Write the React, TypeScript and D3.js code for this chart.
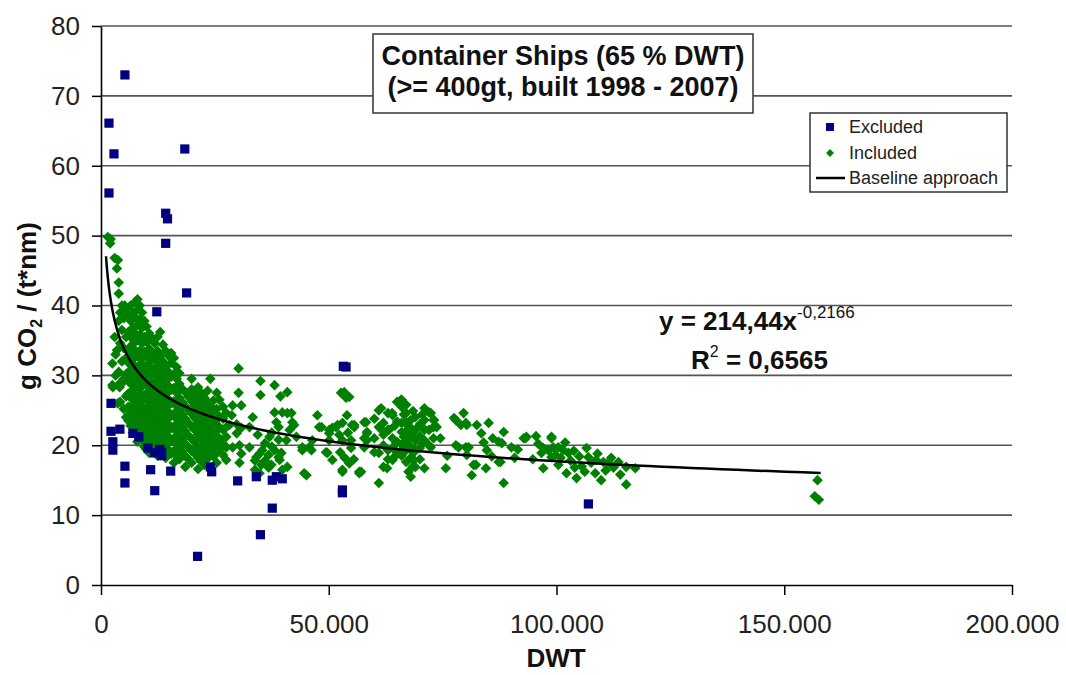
import React, { useEffect, useRef } from "react";
import * as d3 from "d3";

const W = 1066;
const H = 675;
const FONT = "'Liberation Sans', Arial, sans-serif";

const yTicks = [0, 10, 20, 30, 40, 50, 60, 70, 80];
const xTicks = [0, 50000, 100000, 150000, 200000];
const xTickLabels = ["0", "50.000", "100.000", "150.000", "200.000"];

// baseline approach from the chart: y = 214,44 x^-0,2166
const fitA = 214.44;
const fitB = -0.2166;
const fitFrom = 1100;
const fitTo = 158000;

// [DWT, g CO2 / (t*nm)]
const excluded: [number, number][] = [
  [5250, 73.0], [1750, 66.1], [2850, 61.7], [1750, 56.1], [18400, 62.4],
  [14200, 53.2], [14600, 52.4], [14200, 48.9], [18800, 41.8], [12250, 39.1],
  [2200, 26.0], [2200, 22.0], [2600, 20.5], [2600, 19.3], [4150, 22.3],
  [7000, 21.7], [8300, 21.2], [10300, 19.6], [5250, 17.0], [5250, 14.6],
  [10900, 16.5], [11800, 13.5], [11800, 18.9], [13300, 19.0], [13300, 18.5],
  [12900, 19.4], [15300, 16.3], [21200, 4.1], [24000, 16.9], [24300, 16.2],
  [30000, 14.9], [34100, 15.5], [35000, 7.2], [37600, 11.0], [37600, 15.0],
  [39800, 15.2], [38500, 15.5], [53800, 31.2], [53200, 31.3], [53000, 13.2],
  [53000, 13.6], [107000, 11.6],
];

// dense parts read column by column: [DWT, values]
const includedColumns: [number, number[]][] = [
  [3200, [33.0, 30.0]],
  [3900, [37.8, 30.5]],
  [4200, [39.0, 34.6, 28.9, 26.2]],
  [4600, [40.0, 36.5, 32.0]],
  [5000, [38.2, 33.9, 29.5, 25.2]],
  [5500, [39.5, 35.5, 32.5, 30.2, 27.0, 24.0]],
  [6000, [38.6, 36.2, 33.8, 31.8, 29.5, 27.4, 25.5, 23.5]],
  [6500, [40.0, 37.8, 35.5, 33.0, 30.8, 28.8, 26.8, 24.8, 22.8]],
  [7000, [39.0, 36.8, 34.5, 32.3, 30.0, 27.9, 25.8, 23.8, 21.8]],
  [7500, [40.5, 38.3, 36.0, 33.6, 31.3, 29.2, 27.1, 25.0, 23.0]],
  [8000, [40.9, 39.4, 37.2, 35.0, 32.7, 30.5, 28.4, 26.3, 24.2, 22.2, 20.5]],
  [8500, [40.0, 38.0, 35.8, 33.5, 31.5, 29.4, 27.4, 25.4, 23.4, 21.5]],
  [9000, [39.0, 36.8, 34.6, 32.4, 30.4, 28.4, 26.4, 24.5, 22.6, 20.8]],
  [9500, [37.8, 35.5, 33.4, 31.3, 29.2, 27.2, 25.3, 23.4, 21.6, 19.8]],
  [10000, [37.0, 34.8, 32.7, 30.6, 28.6, 26.6, 24.6, 22.8, 21.0, 19.4]],
  [10600, [36.0, 33.8, 31.8, 29.8, 27.8, 25.8, 24.0, 22.2, 20.4, 18.9]],
  [11200, [35.3, 33.0, 30.9, 28.9, 26.9, 25.0, 23.2, 21.4, 19.7]],
  [11800, [34.6, 32.3, 30.2, 28.2, 26.2, 24.3, 22.5, 20.8, 19.0]],
  [12400, [35.5, 33.5, 31.4, 29.4, 27.5, 25.6, 23.7, 21.9, 20.1, 18.5]],
  [13000, [36.2, 32.8, 30.7, 28.6, 26.7, 24.8, 23.0, 21.2, 19.5]],
  [13600, [34.4, 32.0, 30.0, 28.0, 26.1, 24.2, 22.4, 20.6, 18.8]],
  [14200, [33.5, 31.2, 29.2, 27.3, 25.4, 23.6, 21.8, 20.0, 18.2]],
  [14800, [32.8, 30.5, 28.5, 26.6, 24.8, 23.0, 21.2, 19.4]],
  [15400, [33.2, 31.8, 29.8, 27.9, 26.0, 24.2, 22.4, 20.6, 18.8]],
  [16000, [32.5, 30.2, 28.2, 26.3, 24.5, 22.7, 21.0, 19.2, 17.5]],
  [16600, [31.2, 29.5, 27.5, 25.6, 23.8, 22.0, 20.3, 18.5]],
  [17200, [30.3, 28.8, 26.8, 25.0, 23.2, 21.4, 19.7, 18.0]],
  [17800, [28.1, 26.2, 24.4, 22.6, 20.9, 19.1]],
  [18500, [27.6, 25.6, 23.8, 22.0, 20.2, 18.5, 16.9]],
  [19200, [26.9, 25.0, 23.2, 21.4, 19.7, 18.0]],
  [19900, [29.5, 28.0, 26.3, 24.5, 22.7, 20.9, 19.2, 17.5]],
  [20600, [27.3, 25.6, 23.9, 22.2, 20.5, 18.8]],
  [21300, [28.3, 26.6, 24.9, 23.2, 21.5, 19.8, 18.2, 16.6]],
  [22000, [27.5, 25.8, 24.2, 22.5, 20.9, 19.3, 17.7]],
  [22700, [26.8, 25.1, 23.5, 21.9, 20.3, 18.7, 17.2]],
  [23400, [27.8, 26.2, 24.5, 22.9, 21.3, 19.7, 18.1]],
  [24000, [29.5, 25.6, 23.9, 22.3, 20.7, 19.1]],
  [24700, [26.4, 24.8, 23.2, 21.6, 20.0, 18.4]],
  [25400, [27.5, 25.2, 23.7, 22.1, 20.5, 19.0, 17.5]],
  [26000, [26.5, 24.1, 22.6, 21.0, 19.5]],
  [26800, [25.5, 23.8, 22.2, 20.2, 18.6]],
  [27500, [24.6, 22.6, 21.2, 19.7, 17.9]],
  [60000, [23.8, 21.0, 19.0]],
  [61000, [25.0, 22.6, 18.9, 14.6]],
  [62000, [23.2, 21.5, 20.0, 16.9]],
  [63000, [24.6, 22.2, 19.3, 18.0]],
  [64000, [24.3, 21.0, 19.6, 17.9]],
  [64500, [22.8, 18.4]],
  [65000, [26.2, 23.4, 20.5, 19.0]],
  [66000, [26.5, 25.5, 23.2, 21.9, 20.1, 18.5]],
  [66500, [24.4, 21.2, 19.6]],
  [67000, [25.8, 24.6, 23.3, 22.0, 20.7, 19.3, 17.6]],
  [67500, [22.7, 20.0, 16.2]],
  [68000, [23.6, 22.5, 21.2, 19.8, 18.2, 15.5]],
  [68500, [24.9, 21.8, 19.0, 17.0]],
  [69000, [24.0, 22.2, 20.7, 19.2, 16.9]],
  [70000, [23.0, 21.3, 19.6, 18.0]],
  [70500, [24.4, 22.6, 20.2]],
  [71000, [25.3, 23.6, 22.2, 20.7, 16.7]],
  [72000, [24.7, 22.2, 20.0]],
  [73000, [23.6, 22.6, 21.0]],
];

// scattered points
const includedScatter: [number, number][] = [
  [1500, 49.8], [2000, 48.9], [2100, 49.5], [3000, 46.8], [3700, 46.5],
  [3500, 45.3], [3900, 43.3], [3900, 41.7], [5200, 40.0], [3000, 35.5],
  [2500, 31.7], [2500, 28.6], [4100, 28.3], [3700, 26.0], [3500, 33.6],
  [4600, 28.9], [2600, 28.3],
  [28200, 22.9], [28700, 24.3], [28900, 25.7], [28900, 19.7], [29800, 21.7],
  [30200, 31.0], [30200, 27.5], [30400, 17.5], [30800, 25.7], [30800, 22.5],
  [30800, 18.8], [29800, 23.0], [30400, 20.0],
  [32600, 22.6], [32600, 19.7], [33300, 24.0], [34100, 18.3], [34400, 21.5],
  [35000, 29.2], [35000, 27.2], [35200, 17.2], [35400, 19.3], [33800, 16.5],
  [33800, 17.8], [34800, 16.0], [34800, 18.8], [36000, 17.8], [36000, 20.3],
  [36800, 18.6], [36800, 16.8], [37500, 19.8], [37500, 21.8], [39000, 18.3],
  [39000, 20.8], [39000, 22.6], [37000, 21.2], [38100, 28.6], [38100, 24.7],
  [38500, 23.3], [38100, 19.3], [39200, 17.9], [37400, 17.2], [39800, 16.5],
  [39400, 27.0], [40900, 27.6], [40900, 24.6], [42000, 23.3], [41400, 22.2],
  [42900, 21.2], [44200, 19.3], [45700, 19.7], [45100, 15.7], [47500, 24.3],
  [47900, 22.6], [46400, 20.7], [39800, 24.7], [41800, 24.6], [42400, 22.9],
  [40700, 20.7], [39600, 18.9], [40900, 16.9], [44600, 16.0], [44200, 19.7],
  [46200, 19.3], [48400, 22.6], [50100, 21.7], [50800, 22.5], [51900, 22.9],
  [49700, 18.9], [50800, 17.9], [50100, 22.2], [51600, 22.6], [52300, 21.5],
  [50100, 20.7], [49400, 19.0], [53000, 16.5],
  [52700, 27.5], [53400, 27.6], [53800, 26.8], [54500, 26.9], [54000, 24.3],
  [53000, 16.2], [53000, 20.7], [54900, 20.7], [56700, 16.2], [55600, 22.9],
  [55100, 22.9], [54900, 19.6], [57100, 16.2], [55600, 22.6], [57800, 23.3],
  [56700, 16.0], [58200, 23.3], [58400, 21.7], [58400, 20.7], [57800, 19.7],
  [57800, 21.0], [58400, 21.9], [52500, 19.0], [53500, 18.2], [54200, 21.8],
  [55500, 18.0], [53000, 23.2], [54500, 17.4],
  [61500, 25.3], [62100, 21.9], [63900, 24.6], [62800, 16.7], [65900, 26.5],
  [64800, 20.3], [63200, 22.2], [68700, 17.9], [72400, 24.6], [73100, 23.6],
  [73700, 22.6], [72400, 19.7], [75700, 16.7], [77900, 23.6], [79600, 24.6],
  [80300, 22.9], [78500, 19.7], [80700, 19.7], [81800, 17.2], [81400, 15.7],
  [82500, 22.9], [85100, 23.2], [84700, 19.3], [84500, 16.7], [87300, 17.6],
  [88400, 21.9], [88000, 20.3], [90100, 19.7], [88400, 14.6], [92800, 21.0],
  [93400, 21.2], [97100, 16.7], [96700, 18.9], [98900, 21.0], [98200, 19.3],
  [100400, 19.7], [100400, 17.2], [101500, 19.3], [102600, 18.9], [102200, 16.0],
  [104400, 15.3], [106600, 19.6], [107000, 18.3], [107600, 17.5], [108700, 17.9],
  [108500, 16.0], [109800, 15.0], [110300, 17.6], [111400, 17.5], [113600, 17.6],
  [115300, 16.9], [115300, 14.4], [117300, 16.7],
  [77500, 23.9], [79000, 22.9], [80100, 23.2], [77900, 20.0], [80100, 19.7],
  [80300, 18.6], [82300, 17.2], [87300, 20.5], [87700, 17.6], [93200, 21.0],
  [97100, 19.6], [98900, 21.2], [98900, 18.3], [99300, 19.7], [74500, 21.0],
  [76000, 18.5], [99800, 18.6], [100900, 18.2], [101900, 20.4], [103100, 17.8],
  [103800, 19.2], [105000, 18.4], [105500, 17.0], [106200, 16.2], [104000, 16.8],
  [109000, 18.8], [110800, 16.4], [112500, 16.8], [114000, 15.8], [112000, 18.2],
  [96000, 20.2], [94800, 18.0], [95500, 21.3], [91500, 19.4], [90800, 18.2],
  [86000, 21.0], [83500, 21.7], [84000, 20.4], [85800, 18.4],
  [157300, 15.0], [156700, 12.7], [157600, 12.2],
];

const App = () => {
  const ref = useRef<SVGSVGElement>(null);

  useEffect(() => {
    const svg = d3.select(ref.current);
    svg.selectAll("*").remove();

    const x = d3.scaleLinear().domain([0, 200000]).range([101, 1012]);
    const y = d3.scaleLinear().domain([0, 80]).range([585, 26]);

    svg.append("rect").attr("width", W).attr("height", H).attr("fill", "#fff");

    // gridlines
    svg
      .append("g")
      .selectAll("line")
      .data(yTicks.filter((d) => d > 0))
      .join("line")
      .attr("x1", x(0))
      .attr("x2", x(200000))
      .attr("y1", (d) => y(d))
      .attr("y2", (d) => y(d))
      .attr("stroke", "#555")
      .attr("stroke-width", 1.6);

    // y axis
    const yAxis = svg
      .append("g")
      .attr("transform", `translate(${x(0)},0)`)
      .call(d3.axisLeft(y).tickValues(yTicks).tickSize(9).tickSizeOuter(0));
    yAxis.select(".domain").attr("stroke", "#000").attr("stroke-width", 1.6);
    yAxis.selectAll(".tick line").attr("stroke", "#000").attr("stroke-width", 1.5);
    yAxis
      .selectAll("text")
      .attr("x", -21)
      .attr("font-family", FONT)
      .attr("font-size", 26)
      .attr("fill", "#222");

    // x axis
    const xAxis = svg
      .append("g")
      .attr("transform", `translate(0,${y(0)})`)
      .call(
        d3
          .axisBottom(x)
          .tickValues(xTicks)
          .tickFormat((_, i) => xTickLabels[i])
          .tickSize(10)
          .tickSizeOuter(0)
      );
    xAxis.select(".domain").attr("stroke", "#000").attr("stroke-width", 1.6);
    xAxis.selectAll(".tick line").attr("stroke", "#000").attr("stroke-width", 1.5);
    xAxis
      .selectAll("text")
      .attr("y", 30)
      .attr("font-family", FONT)
      .attr("font-size", 26)
      .attr("fill", "#222");

    // axis titles
    svg
      .append("text")
      .attr("x", 556)
      .attr("y", 667)
      .attr("text-anchor", "middle")
      .attr("font-family", FONT)
      .attr("font-weight", "bold")
      .attr("font-size", 26)
      .attr("fill", "#111")
      .text("DWT");

    const yLabel = svg
      .append("text")
      .attr("transform", "translate(36,306) rotate(-90)")
      .attr("text-anchor", "middle")
      .attr("font-family", FONT)
      .attr("font-weight", "bold")
      .attr("font-size", 26)
      .attr("fill", "#111");
    yLabel.append("tspan").text("g CO");
    yLabel.append("tspan").attr("font-size", 16).attr("dy", 6).text("2");
    yLabel.append("tspan").attr("dy", -6).text(" / (t*nm)");

    // title box
    svg
      .append("rect")
      .attr("x", 373)
      .attr("y", 34)
      .attr("width", 380)
      .attr("height", 79)
      .attr("fill", "#fff")
      .attr("stroke", "#333")
      .attr("stroke-width", 1.5);
    const title = svg
      .append("text")
      .attr("text-anchor", "middle")
      .attr("font-family", FONT)
      .attr("font-weight", "bold")
      .attr("font-size", 27)
      .attr("fill", "#111");
    title.append("tspan").attr("x", 563).attr("y", 65).text("Container Ships (65 % DWT)");
    title.append("tspan").attr("x", 563).attr("y", 96).text("(>= 400gt, built 1998 - 2007)");

    // points
    const included: [number, number][] = [
      ...includedColumns.flatMap(([dwt, vals]) => vals.map((v) => [dwt, v] as [number, number])),
      ...includedScatter,
    ];
    const diamond = d3.symbol(d3.symbolDiamond2, 72);
    const square = d3.symbol(d3.symbolSquare, 85);

    svg
      .append("g")
      .selectAll("path")
      .data(included)
      .join("path")
      .attr("transform", (d) => `translate(${x(d[0])},${y(d[1])})`)
      .attr("d", diamond)
      .attr("fill", "#008000");

    svg
      .append("g")
      .selectAll("path")
      .data(excluded)
      .join("path")
      .attr("transform", (d) => `translate(${x(d[0])},${y(d[1])})`)
      .attr("d", square)
      .attr("fill", "#000080");

    // baseline curve
    const fitX = d3.range(0, 201).map((i) => fitFrom * Math.pow(fitTo / fitFrom, i / 200));
    const line = d3
      .line<number>()
      .x((d) => x(d))
      .y((d) => y(fitA * Math.pow(d, fitB)));
    svg
      .append("path")
      .datum(fitX)
      .attr("d", line)
      .attr("fill", "none")
      .attr("stroke", "#000")
      .attr("stroke-width", 2.5);

    // equation
    const eq = svg
      .append("text")
      .attr("x", 659)
      .attr("y", 330)
      .attr("font-family", FONT)
      .attr("font-weight", "bold")
      .attr("font-size", 26)
      .attr("fill", "#111");
    eq.append("tspan").text("y = 214,44x");
    eq.append("tspan").attr("dy", -12).attr("font-size", 17).attr("font-weight", "normal").text("-0,2166");

    const r2 = svg
      .append("text")
      .attr("x", 691)
      .attr("y", 369)
      .attr("font-family", FONT)
      .attr("font-weight", "bold")
      .attr("font-size", 26)
      .attr("fill", "#111");
    r2.append("tspan").text("R");
    r2.append("tspan").attr("dy", -12).attr("font-size", 16).attr("font-weight", "normal").text("2");
    r2.append("tspan").attr("dy", 12).text(" = 0,6565");

    // legend
    const legend = svg.append("g");
    legend
      .append("rect")
      .attr("x", 810)
      .attr("y", 113)
      .attr("width", 197)
      .attr("height", 79)
      .attr("fill", "#fff")
      .attr("stroke", "#333")
      .attr("stroke-width", 1.5);
    legend
      .append("path")
      .attr("transform", "translate(830,127)")
      .attr("d", d3.symbol(d3.symbolSquare, 64))
      .attr("fill", "#000080");
    legend
      .append("path")
      .attr("transform", "translate(830,153)")
      .attr("d", d3.symbol(d3.symbolDiamond2, 40))
      .attr("fill", "#008000");
    legend
      .append("line")
      .attr("x1", 816)
      .attr("x2", 845)
      .attr("y1", 178)
      .attr("y2", 178)
      .attr("stroke", "#000")
      .attr("stroke-width", 2.5);
    legend
      .selectAll("text")
      .data(["Excluded", "Included", "Baseline approach"])
      .join("text")
      .attr("x", 849)
      .attr("y", (_, i) => 133 + i * 25.5)
      .attr("font-family", FONT)
      .attr("font-size", 18)
      .attr("fill", "#222")
      .text((d) => d);
  }, []);

  return (
    <svg
      ref={ref}
      width={W}
      height={H}
      style={{ position: "absolute", left: 0, top: 0, display: "block" }}
    />
  );
};

export default App;
